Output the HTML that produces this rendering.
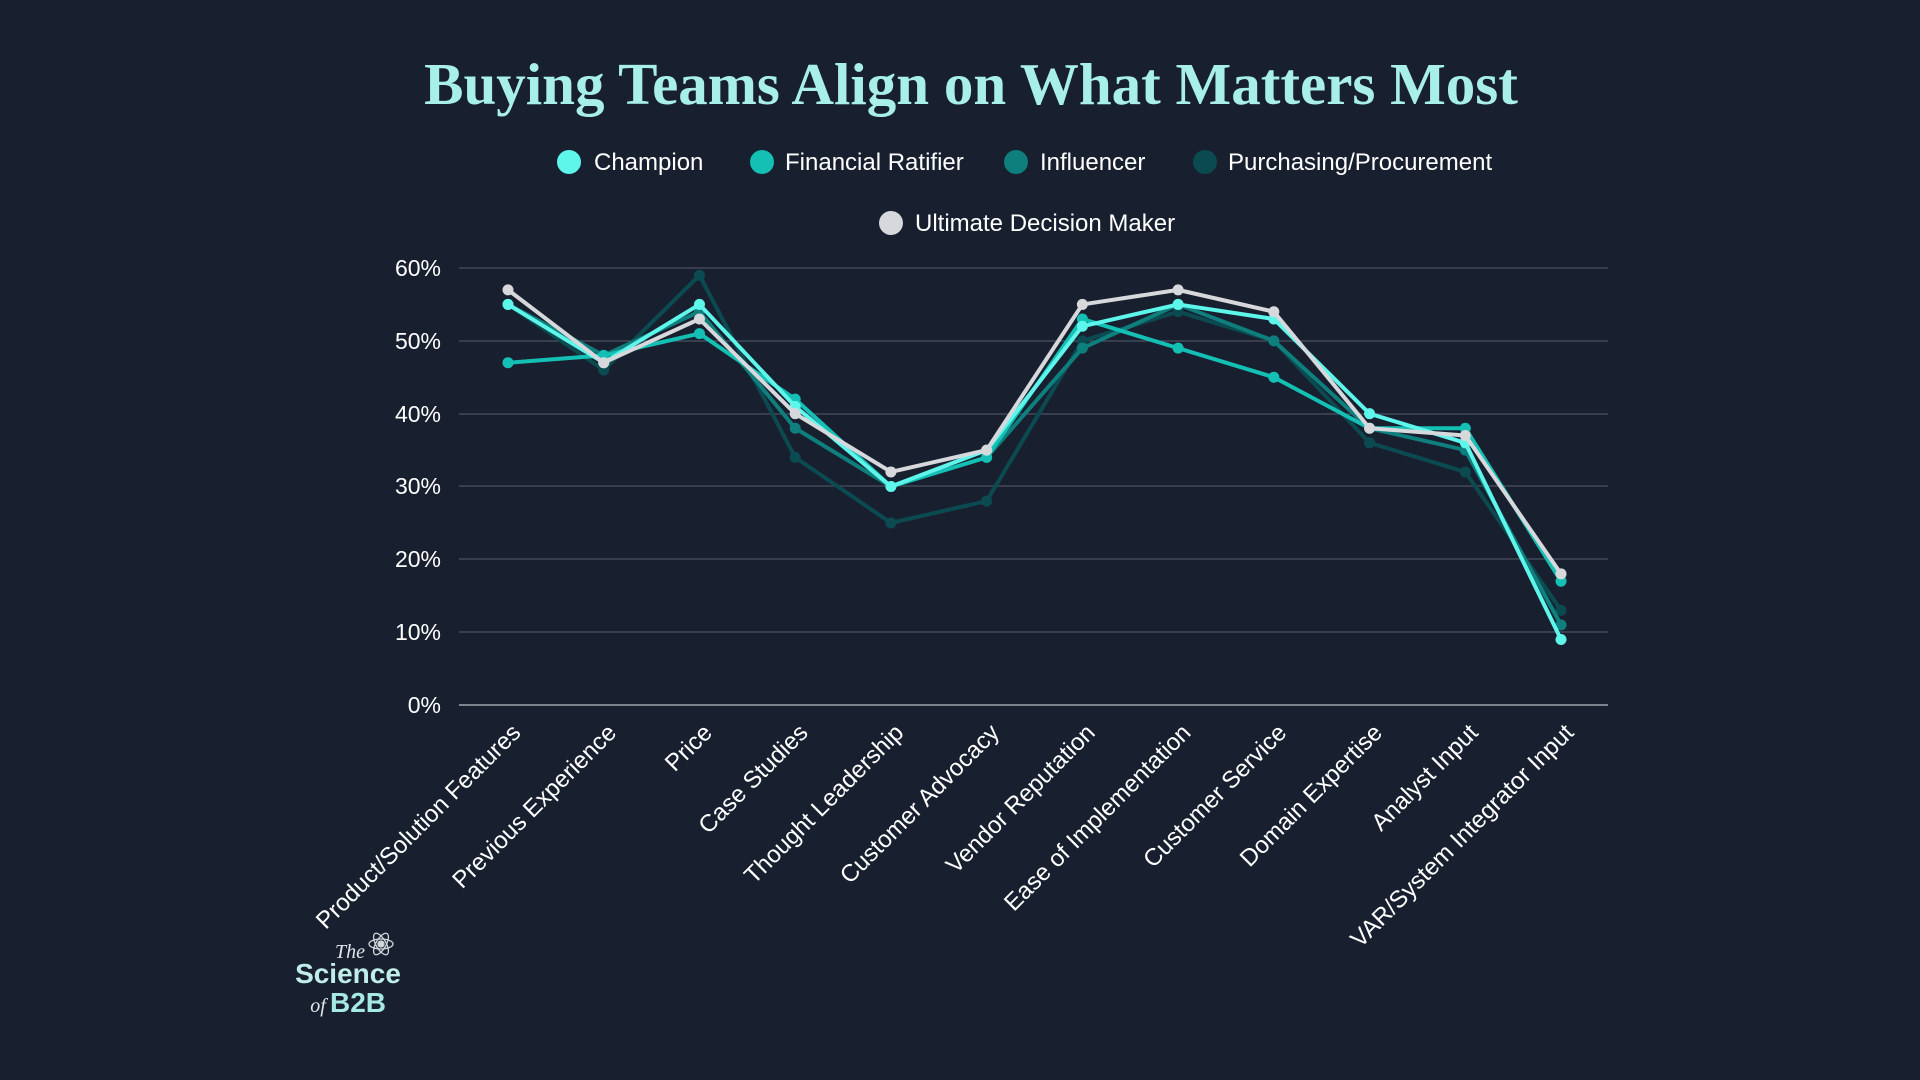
<!DOCTYPE html>
<html><head><meta charset="utf-8"><style>
html,body{margin:0;padding:0;background:#182030;}
svg{display:block;}
</style></head><body>
<svg width="1920" height="1080" viewBox="0 0 1920 1080" xmlns="http://www.w3.org/2000/svg">
<rect width="1920" height="1080" fill="#182030"/>
<text x="971" y="104" text-anchor="middle" font-family="Liberation Serif, serif" font-weight="bold" font-size="59" fill="#a9efe9">Buying Teams Align on What Matters Most</text>
<g font-family="Liberation Sans, sans-serif" font-size="24" fill="#ffffff">
<circle cx="569" cy="162" r="12" fill="#5ef5ea"/><text x="594" y="170">Champion</text>
<circle cx="762" cy="162" r="12" fill="#14bfb4"/><text x="785" y="170">Financial Ratifier</text>
<circle cx="1016" cy="162" r="12" fill="#0e7f7c"/><text x="1040" y="170">Influencer</text>
<circle cx="1205" cy="162" r="12" fill="#0b4a50"/><text x="1228" y="170">Purchasing/Procurement</text>
<circle cx="891" cy="223" r="12" fill="#d6d8dc"/><text x="915" y="231">Ultimate Decision Maker</text>
</g>
<g stroke="#4a5262" stroke-width="1.3">
<line x1="459" x2="1608" y1="268" y2="268"/><line x1="459" x2="1608" y1="341" y2="341"/>
<line x1="459" x2="1608" y1="414" y2="414"/><line x1="459" x2="1608" y1="486" y2="486"/>
<line x1="459" x2="1608" y1="559" y2="559"/><line x1="459" x2="1608" y1="632" y2="632"/>
</g>
<line x1="459" x2="1608" y1="705" y2="705" stroke="#a0a4ac" stroke-width="1.5"/>
<g font-family="Liberation Sans, sans-serif" font-size="23" fill="#ffffff" text-anchor="end">
<text x="441" y="276">60%</text><text x="441" y="349">50%</text><text x="441" y="422">40%</text>
<text x="441" y="494">30%</text><text x="441" y="567">20%</text><text x="441" y="640">10%</text><text x="441" y="713">0%</text>
</g>
<g id="series" fill="none" stroke-width="4" stroke-linejoin="round"></g>
<g font-family="Liberation Sans, sans-serif" font-size="24" fill="#ffffff" text-anchor="end" id="xl"></g>
<g font-family="Liberation Sans, sans-serif" text-anchor="middle">
<text x="350" y="958" font-family="Liberation Serif, serif" font-style="italic" font-size="20" fill="#e0e6ea">The</text>
<g transform="translate(381,944)" stroke="#d0d6da" stroke-width="1.3" fill="none">
<ellipse rx="12" ry="5"/><ellipse rx="12" ry="5" transform="rotate(60)"/><ellipse rx="12" ry="5" transform="rotate(-60)"/>
<circle r="3" fill="#d0d6da"/></g>
<text x="348" y="983" font-size="28" font-weight="bold" fill="#bfeee9">Science</text>
<text x="318" y="1012" font-family="Liberation Serif, serif" font-style="italic" font-size="20" fill="#e0e6ea">of</text>
<text x="358" y="1012" font-size="28" font-weight="bold" fill="#a6e8e2">B2B</text>
</g>
<script>
const xs=i=>508+i*95.73, ys=v=>705-v*7.283;
const data=[
["#0b4a50",[55,46,59,34,25,28,50,54,50,36,32,13]],
["#0e7f7c",[55,48,54,38,30,34,49,55,50,38,35,11]],
["#14bfb4",[47,48,51,42,30,34,53,49,45,38,38,17]],
["#5ef5ea",[55,47,55,41,30,35,52,55,53,40,36,9]],
["#d6d8dc",[57,47,53,40,32,35,55,57,54,38,37,18]]];
const ns="http://www.w3.org/2000/svg",g=document.getElementById("series");
data.forEach(([c,v])=>{const p=document.createElementNS(ns,"polyline");
p.setAttribute("points",v.map((y,i)=>xs(i)+","+ys(y)).join(" "));p.setAttribute("stroke",c);g.appendChild(p);
v.forEach((y,i)=>{const ci=document.createElementNS(ns,"circle");ci.setAttribute("cx",xs(i));ci.setAttribute("cy",ys(y));ci.setAttribute("r",5.5);ci.setAttribute("fill",c);g.appendChild(ci);});});
const labs=["Product/Solution Features","Previous Experience","Price","Case Studies","Thought Leadership","Customer Advocacy","Vendor Reputation","Ease of Implementation","Customer Service","Domain Expertise","Analyst Input","VAR/System Integrator Input"];
const xl=document.getElementById("xl");
labs.forEach((t,i)=>{const e=document.createElementNS(ns,"text");const x=xs(i)+14,y=734;
e.setAttribute("x",x);e.setAttribute("y",y);e.setAttribute("transform",`rotate(-45 ${x} ${y})`);e.textContent=t;xl.appendChild(e);});
</script>
</svg>
</body></html>
